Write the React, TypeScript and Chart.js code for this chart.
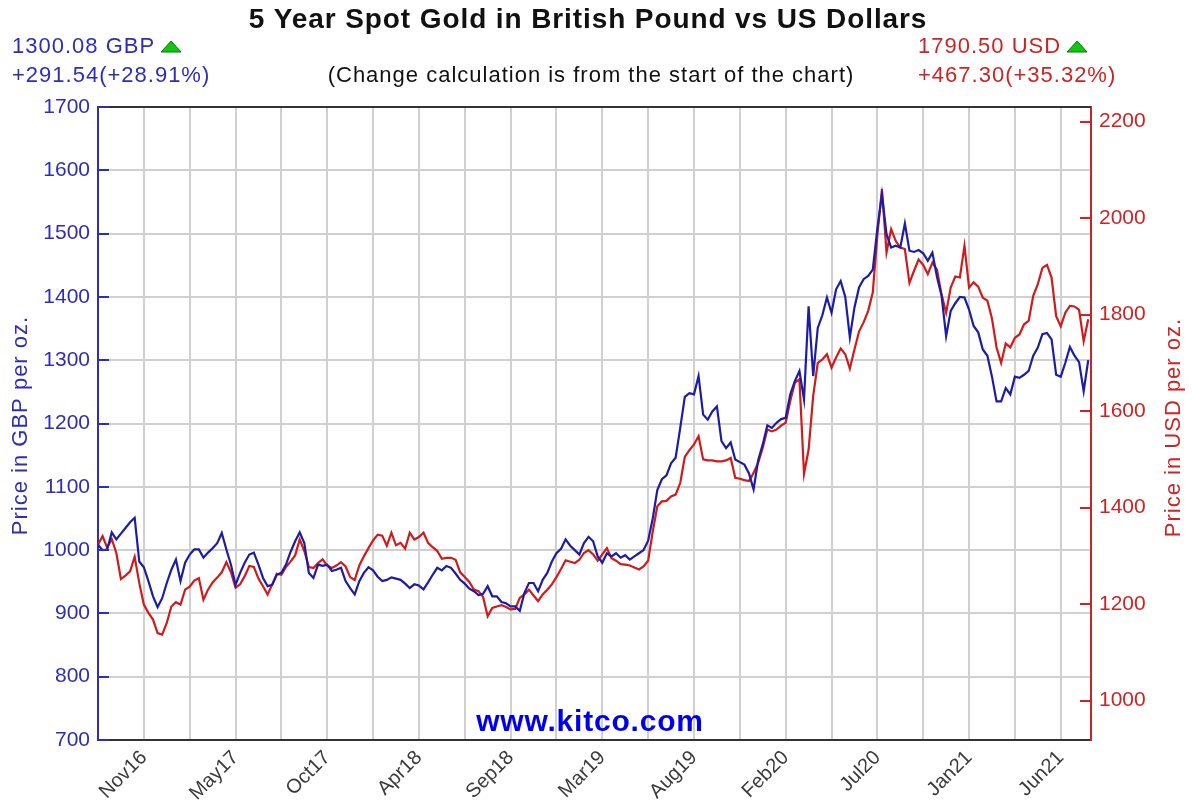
import React, { useEffect, useRef } from 'react';
import { Chart, registerables } from 'chart.js';

Chart.register(...registerables);

const FONT = "'Liberation Sans', Arial, Helvetica, sans-serif";

const chartTitle = '5 Year Spot Gold in British Pound vs US Dollars';
const subTitle = '(Change calculation is from the start of the chart)';
const watermark = 'www.kitco.com';
const gbpAxisTitle = 'Price in GBP per oz.';
const usdAxisTitle = 'Price in USD per oz.';

const gbpLast = 1300.08;
const gbpChange = 291.54;
const gbpPct = 28.91;
const usdLast = 1790.5;
const usdChange = 467.3;
const usdPct = 35.32;

const monthLabels = ['Nov16', 'May17', 'Oct17', 'Apr18', 'Sep18', 'Mar19', 'Aug19', 'Feb20', 'Jul20', 'Jan21', 'Jun21'];
const gridPositions = [10, 20, 30, 40, 50, 60, 70, 80, 90, 100, 110, 120, 130, 140, 150, 160, 170, 180, 190, 200, 210];
const gbpTicks = [700, 800, 900, 1000, 1100, 1200, 1300, 1400, 1500, 1600, 1700];
const usdTicks = [1000, 1200, 1400, 1600, 1800, 2000, 2200];

const gbpPrices = [
  1008.54, 1000, 1001, 1028, 1017, 1026, 1035, 1044, 1051, 982,
  973, 951, 927, 910, 924, 948, 969, 985, 951, 980,
  993, 1001, 1001, 988, 996, 1003, 1011, 1027, 1001, 977,
  945, 964, 980, 993, 996, 977, 956, 943, 945, 961,
  964, 977, 997, 1014, 1028, 1011, 964, 956, 977, 975,
  977, 967, 969, 972, 951, 940, 930, 951, 964, 973,
  968, 958, 951, 953, 957, 955, 953, 947, 940, 946,
  944, 938, 949, 961, 972, 968, 975, 972, 963, 953,
  947, 939, 935, 929, 931, 943, 927, 927, 918, 916,
  911, 911, 904, 932, 948, 948, 935, 953, 964, 982,
  995, 1002, 1017, 1007, 1000, 993, 1011, 1021, 1014, 990,
  980, 995, 990, 995, 988, 992, 985, 990, 995, 1000,
  1015, 1050, 1095, 1112, 1118, 1137, 1146, 1193, 1242, 1248,
  1246, 1275, 1214, 1206, 1219, 1227, 1172, 1161, 1170, 1143,
  1139, 1135, 1121, 1096, 1142, 1167, 1197, 1193, 1201, 1207,
  1209, 1246, 1267, 1283, 1238, 1385, 1275, 1351, 1371, 1399,
  1375, 1412, 1425, 1400, 1336, 1383, 1415, 1428, 1433, 1443,
  1508, 1562, 1499, 1478, 1481, 1478, 1516, 1473, 1471, 1474,
  1469, 1457, 1470, 1432, 1402, 1338, 1378, 1390, 1400, 1399,
  1380, 1354, 1344, 1317, 1307, 1274, 1235, 1235, 1256, 1246,
  1274, 1272, 1277, 1283, 1307, 1320, 1341, 1343, 1333, 1277,
  1274, 1296, 1321, 1307, 1297, 1251, 1300.08,
];

const usdPrices = [
  1323.2, 1341, 1317, 1335, 1306, 1252, 1259, 1268, 1298, 1244,
  1199, 1182, 1168, 1140, 1137, 1161, 1195, 1204, 1199, 1230,
  1236, 1249, 1254, 1209, 1230, 1245, 1255, 1266, 1287, 1266,
  1234, 1241, 1258, 1279, 1277, 1253, 1237, 1220, 1241, 1263,
  1261, 1277, 1288, 1301, 1334, 1310, 1277, 1275, 1285, 1293,
  1280, 1275, 1280, 1287, 1278, 1256, 1250, 1280, 1299, 1316,
  1332, 1344, 1342, 1321, 1348, 1322, 1327, 1315, 1348, 1334,
  1339, 1348, 1327, 1318, 1310, 1294, 1296, 1296, 1292, 1266,
  1256, 1246, 1230, 1227, 1215, 1175, 1192, 1195, 1198, 1194,
  1189, 1190, 1213, 1220, 1230, 1218, 1206, 1220, 1230, 1241,
  1256, 1273, 1291, 1288, 1285, 1292, 1306, 1312, 1303, 1290,
  1303, 1316, 1295, 1290, 1283, 1282, 1280, 1276, 1272, 1278,
  1290, 1350, 1403, 1413, 1414, 1423, 1427, 1451, 1505, 1519,
  1531, 1548, 1500, 1498, 1498, 1496, 1496, 1498, 1503, 1462,
  1460, 1457, 1455, 1472, 1493, 1524, 1562, 1558, 1562, 1570,
  1576, 1621, 1659, 1666, 1470, 1520, 1631, 1700, 1707, 1718,
  1690, 1711, 1730, 1718, 1688, 1728, 1765, 1784, 1808, 1846,
  1965, 2060, 1929, 1977, 1953, 1939, 1936, 1866, 1891, 1914,
  1903, 1884, 1908, 1893, 1842, 1804, 1856, 1879, 1877, 1943,
  1856, 1867, 1858, 1835, 1829, 1792, 1732, 1700, 1740, 1732,
  1752, 1759, 1780, 1787, 1839, 1863, 1897, 1903, 1877, 1797,
  1776, 1804, 1818, 1817, 1810, 1745, 1790.5,
];

const BLUE_LINE = '#1c1ca6';
const RED_LINE = '#cf1b1b';
const BLUE_TEXT = '#2e2eb4';
const RED_TEXT = '#cc2424';

const usdPerGbp = (usdLast - usdChange) / (gbpLast - gbpChange);

function drawTriangle(ctx: CanvasRenderingContext2D, x: number, yBase: number) {
  ctx.beginPath();
  ctx.moveTo(x, yBase);
  ctx.lineTo(x + 20, yBase);
  ctx.lineTo(x + 10, yBase - 11);
  ctx.closePath();
  ctx.fillStyle = '#10c810';
  ctx.fill();
  ctx.strokeStyle = '#087008';
  ctx.lineWidth = 1;
  ctx.stroke();
}

function setSpacing(ctx: any, px: number) {
  if ('letterSpacing' in ctx) ctx.letterSpacing = `${px}px`;
}

const decorPlugin = {
  id: 'decor',
  beforeDatasetsDraw(chart: any) {
    const { ctx, chartArea } = chart;
    ctx.save();
    ctx.font = `bold 30px ${FONT}`;
    setSpacing(ctx, 0.8);
    ctx.fillStyle = '#0000f0';
    ctx.textAlign = 'center';
    ctx.textBaseline = 'middle';
    ctx.fillText(watermark, 590, chartArea.bottom - 17);
    setSpacing(ctx, 0);
    ctx.restore();
  },
  afterDraw(chart: any) {
    const { ctx, chartArea, scales } = chart;
    const { left, right, top, bottom } = chartArea;
    ctx.save();
    // top frame
    ctx.strokeStyle = '#333';
    ctx.lineWidth = 2;
    ctx.beginPath();
    ctx.moveTo(left, top);
    ctx.lineTo(right, top);
    ctx.stroke();
    // inner tick marks
    ctx.strokeStyle = BLUE_TEXT;
    gbpTicks.forEach((v) => {
      const y = Math.round(scales.y.getPixelForValue(v));
      ctx.beginPath();
      ctx.moveTo(left, y);
      ctx.lineTo(left + 11, y);
      ctx.stroke();
    });
    ctx.strokeStyle = RED_TEXT;
    usdTicks.forEach((v) => {
      const y = Math.round(scales.y1.getPixelForValue(v));
      ctx.beginPath();
      ctx.moveTo(right - 11, y);
      ctx.lineTo(right, y);
      ctx.stroke();
    });

    // header texts
    ctx.textBaseline = 'middle';
    ctx.textAlign = 'center';
    ctx.fillStyle = '#111';
    ctx.font = `bold 28px ${FONT}`;
    setSpacing(ctx, 0.9);
    ctx.fillText(chartTitle, 588, 20);
    ctx.font = `22px ${FONT}`;
    setSpacing(ctx, 1);
    ctx.fillText(subTitle, 591, 76);

    ctx.textAlign = 'left';
    setSpacing(ctx, 1);
    ctx.fillStyle = BLUE_TEXT;
    const gbpLine1 = `${gbpLast.toFixed(2)} GBP`;
    ctx.fillText(gbpLine1, 12, 47);
    ctx.fillText(`+${gbpChange.toFixed(2)}(+${gbpPct.toFixed(2)}%)`, 12, 76);
    const w1 = ctx.measureText(gbpLine1).width;
    ctx.fillStyle = RED_TEXT;
    const usdLine1 = `${usdLast.toFixed(2)} USD`;
    ctx.fillText(usdLine1, 918, 47);
    ctx.fillText(`+${usdChange.toFixed(2)}(+${usdPct.toFixed(2)}%)`, 918, 76);
    const w2 = ctx.measureText(usdLine1).width;
    drawTriangle(ctx, 12 + w1 + 6, 52);
    drawTriangle(ctx, 918 + w2 + 6, 52);

    // axis titles
    const midY = (top + bottom) / 2;
    ctx.font = `22px ${FONT}`;
    setSpacing(ctx, 1);
    ctx.textAlign = 'center';
    ctx.save();
    ctx.translate(21, midY + 2);
    ctx.rotate(-Math.PI / 2);
    ctx.fillStyle = BLUE_TEXT;
    ctx.fillText(gbpAxisTitle, 0, 0);
    ctx.restore();
    ctx.save();
    ctx.translate(1174, midY + 4);
    ctx.rotate(-Math.PI / 2);
    ctx.fillStyle = RED_TEXT;
    ctx.fillText(usdAxisTitle, 0, 0);
    ctx.restore();
    setSpacing(ctx, 0);
    ctx.restore();
  },
};

export default function App() {
  const canvasRef = useRef<HTMLCanvasElement | null>(null);

  useEffect(() => {
    document.body.style.margin = '0';
    document.body.style.overflow = 'hidden';
    const canvas = canvasRef.current;
    if (!canvas) return;

    const gbpData = gbpPrices.map((v, i) => ({ x: i, y: v }));
    const usdData = usdPrices.map((v, i) => ({ x: i, y: v }));

    const chart = new Chart(canvas, {
      type: 'line',
      data: {
        datasets: [
          {
            label: 'GBP',
            data: gbpData,
            borderColor: BLUE_LINE,
            borderWidth: 2.2,
            pointRadius: 0,
            tension: 0,
            yAxisID: 'y',
          },
          {
            label: 'USD',
            data: usdData,
            borderColor: RED_LINE,
            borderWidth: 2.2,
            pointRadius: 0,
            tension: 0,
            yAxisID: 'y1',
          },
        ],
      },
      options: {
        responsive: false,
        maintainAspectRatio: false,
        animation: false,
        layout: { padding: { top: 107, left: 0, right: 0, bottom: 0 } },
        plugins: {
          legend: { display: false },
          tooltip: { enabled: false },
          title: { display: false },
        },
        scales: {
          x: {
            type: 'linear',
            min: 0,
            max: 216.6,
            position: 'bottom',
            afterBuildTicks: (s: any) => {
              s.ticks = gridPositions.map((v) => ({ value: v }));
            },
            afterFit: (s: any) => {
              s.height = 62;
            },
            grid: { color: '#d0d0d0', lineWidth: 2, drawTicks: false },
            border: { color: '#333', width: 2 },
            ticks: {
              autoSkip: false,
              maxRotation: 45,
              minRotation: 45,
              padding: 6,
              color: '#3a3a3a',
              font: { family: FONT, size: 20 },
              callback: (v: any) => {
                const k = (Number(v) - gridPositions[0]) / 20;
                return Number.isInteger(k) && monthLabels[k] ? monthLabels[k] : '';
              },
            },
          },
          y: {
            type: 'linear',
            position: 'left',
            min: 700,
            max: 1700,
            afterBuildTicks: (s: any) => {
              s.ticks = gbpTicks.map((v) => ({ value: v }));
            },
            afterFit: (s: any) => {
              s.width = 98;
            },
            grid: { color: '#d0d0d0', lineWidth: 2, drawTicks: false },
            border: { color: BLUE_TEXT, width: 2 },
            ticks: {
              color: BLUE_TEXT,
              padding: 8,
              font: { family: FONT, size: 21 },
              callback: (v: any) => String(v),
            },
          },
          y1: {
            type: 'linear',
            position: 'right',
            min: 700 * usdPerGbp,
            max: 1700 * usdPerGbp,
            afterBuildTicks: (s: any) => {
              s.ticks = usdTicks.map((v) => ({ value: v }));
            },
            afterFit: (s: any) => {
              s.width = 101;
            },
            grid: { drawOnChartArea: false, drawTicks: false },
            border: { color: RED_TEXT, width: 2 },
            ticks: {
              color: RED_TEXT,
              padding: 8,
              font: { family: FONT, size: 21 },
              callback: (v: any) => String(v),
            },
          },
        },
      },
      plugins: [decorPlugin],
    } as any);

    return () => {
      chart.destroy();
    };
  }, []);

  return (
    <canvas
      ref={canvasRef}
      width={1192}
      height={802}
      style={{ display: 'block', width: '1192px', height: '802px' }}
    />
  );
}
